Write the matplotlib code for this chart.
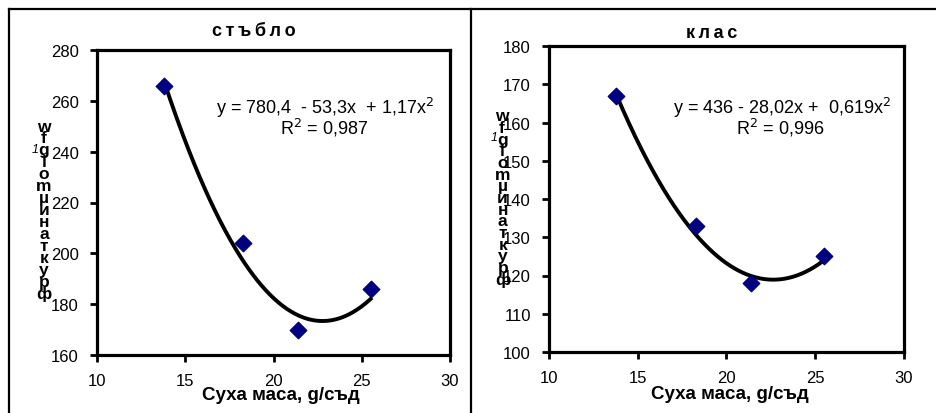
import matplotlib.pyplot as plt
from matplotlib.lines import Line2D
import numpy as np

plt.rcParams['font.family'] = ['Liberation Sans', 'DejaVu Sans']

# data
dry_mass = [13.8, 18.3, 21.4, 25.5]
stem_vals = [266, 204, 170, 186]
ear_vals = [167, 133, 118, 125]
# printed trend coefficients (c0, c1, c2)
stem_coef = [780.4, -53.3, 1.17]
ear_coef = [436, -28.02, 0.619]

titles = ['стъбло', 'клас']
eq_texts = ['y = 780,4  - 53,3x  + 1,17x$^2$', 'y = 436 - 28,02x +  0,619x$^2$']
r2_texts = ['R$^2$ = 0,987', 'R$^2$ = 0,996']
xlabel = 'Суха маса, g/съд'
ylabel_chars = ['w', 'f', 'g', 'l', 'o', 'm', 'µ', 'и', 'н', 'а', 'т', 'к', 'у', 'р', 'ф']

W, H = 937, 414
fig = plt.figure(figsize=(W / 100, H / 100), dpi=100)


def px(x, y):
    return x / W, 1 - y / H


panels = [
    dict(rect=(97, 51, 450, 356), ylim=(160, 280), yticks=range(160, 281, 20),
         vals=stem_vals, coef=stem_coef, title=titles[0], eq=eq_texts[0], r2=r2_texts[0],
         title_xy=(254, 31), eq_xy=(325, 108), r2_xy=(324, 128), xl_xy=(281, 396),
         ylab_top=(44, 127), ylab_bot=(44, 294), one_xy=(35, 150)),
    dict(rect=(549, 47, 904, 353), ylim=(100, 180), yticks=range(100, 181, 10),
         vals=ear_vals, coef=ear_coef, title=titles[1], eq=eq_texts[1], r2=r2_texts[1],
         title_xy=(712, 33), eq_xy=(782, 108), r2_xy=(780, 128), xl_xy=(730, 395),
         ylab_top=(502, 117), ylab_bot=(503, 280), one_xy=(494, 138)),
]

for p in panels:
    x0, y0, x1, y1 = p['rect']
    ax = fig.add_axes([x0 / W, 1 - y1 / H, (x1 - x0) / W, (y1 - y0) / H])
    xs = np.linspace(min(dry_mass), max(dry_mass), 200)
    c0, c1, c2 = p['coef']
    ax.plot(xs, c0 + c1 * xs + c2 * xs ** 2, color='black', lw=2.8, zorder=2)
    ax.scatter(dry_mass, p['vals'], marker='D', s=70, color='#000080', zorder=3)
    ax.set_xlim(10, 30)
    ax.set_ylim(*p['ylim'])
    ax.set_xticks(range(10, 31, 5))
    ax.set_yticks(list(p['yticks']))
    for s in ax.spines.values():
        s.set_linewidth(2.3)
    ax.tick_params(direction='out', length=5, width=2, labelsize=12, pad=8)
    fig.text(*px(*p['title_xy']), '\u2009'.join(p['title']), ha='center', va='center',
             fontsize=13, fontweight='bold')
    fig.text(*px(*p['eq_xy']), p['eq'], ha='center', va='center', fontsize=13)
    fig.text(*px(*p['r2_xy']), p['r2'], ha='center', va='center', fontsize=13)
    fig.text(*px(*p['xl_xy']), xlabel, ha='center', va='center',
             fontsize=13.5, fontweight='bold')
    (tx, ty), (bx, by) = p['ylab_top'], p['ylab_bot']
    n = len(ylabel_chars)
    for i, ch in enumerate(ylabel_chars):
        fx = tx + (bx - tx) * i / (n - 1)
        fy = ty + (by - ty) * i / (n - 1)
        fig.text(*px(fx, fy), ch, ha='center', va='center', fontsize=12.5, fontweight='bold')
    fig.text(*px(*p['one_xy']), '1', ha='center', va='center', fontsize=9, style='italic')

# outer frame of the two cells
frame = dict(color='black', lw=1.6, transform=fig.transFigure)
fig.add_artist(Line2D([9 / W, 9 / W], [0, 1 - 10 / H], **frame))
fig.add_artist(Line2D([9 / W, 1], [1 - 10 / H, 1 - 10 / H], **frame))
fig.add_artist(Line2D([471 / W, 471 / W], [0, 1 - 10 / H], **frame))

fig.savefig('out.png', dpi=100)
